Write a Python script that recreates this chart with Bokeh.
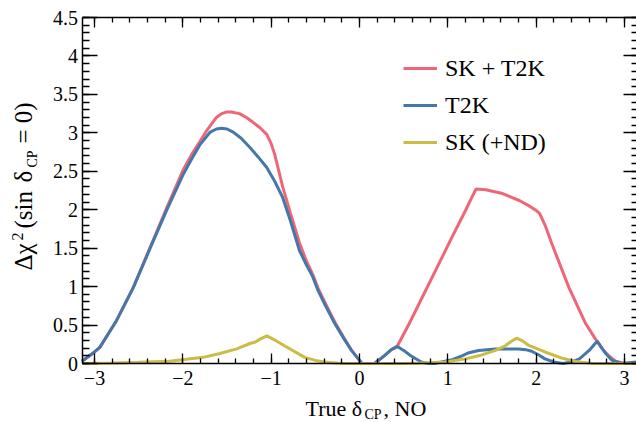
import math
from bokeh.plotting import figure
from bokeh.models import (Range1d, LinearAxis, SingleIntervalTicker, CustomJSTickFormatter,
                          Label, Legend, LegendItem)
from bokeh.embed import file_html
from bokeh.resources import INLINE

# ---- data ----
sk_t2k_x = [-3.1416, -3.0, -2.94, -2.75, -2.56, -2.37, -2.18, -2.0, -1.90, -1.81, -1.73, -1.62,
            -1.56, -1.51, -1.45, -1.36, -1.28, -1.21, -1.13, -1.05, -1.00, -0.96, -0.87, -0.78,
            -0.68, -0.60, -0.53, -0.47, -0.38, -0.28, -0.18, -0.09, 0.0, 0.03, 0.17, 0.28,
            0.36, 0.43, 0.55, 0.68, 0.87, 1.05, 1.20, 1.28, 1.32, 1.43, 1.62, 1.81, 1.92, 2.00,
            2.04, 2.10, 2.18, 2.37, 2.56, 2.67, 2.69, 2.75, 2.82, 2.90, 3.0, 3.1416]
sk_t2k_y = [0.03, 0.15, 0.21, 0.56, 0.99, 1.51, 2.03, 2.51, 2.72, 2.88, 3.03, 3.20,
            3.25, 3.27, 3.27, 3.25, 3.20, 3.14, 3.07, 2.98, 2.86, 2.72, 2.30, 1.95,
            1.57, 1.33, 1.16, 0.98, 0.77, 0.54, 0.34, 0.17, 0.04, 0.0, 0.0, 0.10,
            0.18, 0.23, 0.49, 0.79, 1.23, 1.65, 1.99, 2.18, 2.27, 2.26, 2.21, 2.12, 2.05, 1.99,
            1.95, 1.80, 1.55, 0.99, 0.52, 0.32, 0.29, 0.19, 0.10, 0.03, 0.0, 0.0]

t2k_x = [-3.1416, -3.0, -2.94, -2.75, -2.56, -2.37, -2.18, -2.0, -1.90, -1.81, -1.69, -1.62,
         -1.56, -1.50, -1.43, -1.34, -1.24, -1.15, -1.05, -0.96, -0.87, -0.78, -0.68, -0.60,
         -0.53, -0.47, -0.38, -0.28, -0.18, -0.09, 0.0, 0.03, 0.17, 0.28, 0.36, 0.43, 0.50,
         0.58, 0.70, 0.78, 0.85, 0.97, 1.05, 1.16, 1.24, 1.35, 1.54, 1.80, 1.88, 1.95, 2.03,
         2.10, 2.20, 2.30, 2.40, 2.49, 2.60, 2.69, 2.78, 2.86, 2.97, 3.1416]
t2k_y = [0.03, 0.15, 0.21, 0.56, 0.99, 1.50, 2.00, 2.45, 2.66, 2.84, 3.01, 3.05,
         3.06, 3.05, 3.01, 2.93, 2.81, 2.69, 2.55, 2.37, 2.16, 1.85, 1.47, 1.28,
         1.13, 0.95, 0.74, 0.52, 0.33, 0.17, 0.04, 0.0, 0.0, 0.10, 0.18, 0.22, 0.17,
         0.10, 0.02, 0.0, 0.0, 0.03, 0.05, 0.10, 0.14, 0.17, 0.19, 0.19, 0.18, 0.16, 0.11,
         0.06, 0.02, 0.0, 0.02, 0.06, 0.17, 0.29, 0.14, 0.04, 0.0, 0.02]

sk_x = [-3.1416, -2.8, -2.5, -2.15, -1.77, -1.58, -1.39, -1.24, -1.18, -1.12, -1.05, -0.95,
        -0.85, -0.62, -0.50, -0.40, -0.30, -0.20, 0.0, 0.5, 0.7, 0.97, 1.20, 1.35, 1.54,
        1.65, 1.72, 1.78, 1.85, 1.91, 2.10, 2.29, 2.48, 2.65, 3.1416]
sk_y = [0.0, 0.005, 0.015, 0.03, 0.08, 0.13, 0.19, 0.26, 0.28, 0.32, 0.36, 0.30,
        0.23, 0.08, 0.04, 0.02, 0.01, 0.0, 0.0, 0.0, 0.005, 0.02, 0.06, 0.10, 0.17,
        0.23, 0.29, 0.33, 0.29, 0.24, 0.15, 0.07, 0.02, 0.0, 0.0]

series_names = ["SK + T2K", "T2K", "SK (+ND)"]
series_colors = ["#EE6677", "#4477AA", "#CCBB44"]

X_MIN, X_MAX = -math.pi, math.pi
Y_MIN, Y_MAX = 0.0, 4.5

FONT = "Liberation Serif"

# The frame fills the whole canvas; the axes sit at fixed data positions.
p = figure(width=636, height=422, output_backend="svg", toolbar_location=None,
           x_range=Range1d(-4.0643, 3.136), y_range=Range1d(-0.7673, 4.7211),
           x_axis_location=None, y_axis_location=None,
           min_border_left=0, min_border_right=0, min_border_top=0, min_border_bottom=0)
p.xgrid.visible = False
p.ygrid.visible = False
p.outline_line_color = None
p.background_fill_color = "white"
p.border_fill_color = "white"

fmt = CustomJSTickFormatter(code="""
var v = Math.round(tick * 10) / 10;
return v < 0 ? "\\u2212" + (-v) : "" + v;
""")
empty = CustomJSTickFormatter(code="return '';")

def mk_axis(interval, major_in, minor_in, labels, loc, bounds):
    ax = LinearAxis(ticker=SingleIntervalTicker(interval=interval, num_minor_ticks=5),
                    formatter=fmt if labels else empty, fixed_location=loc, bounds=bounds)
    ax.major_tick_in = major_in
    ax.major_tick_out = 0
    ax.minor_tick_in = minor_in
    ax.minor_tick_out = 0
    ax.major_tick_line_color = "black"
    ax.minor_tick_line_color = "black"
    ax.major_tick_line_width = 1.3
    ax.minor_tick_line_width = 1.3
    ax.axis_line_color = "black"
    ax.axis_line_width = 1.5
    ax.major_label_text_font = FONT
    ax.major_label_text_color = "black"
    if labels:
        ax.major_label_text_font_size = "20px"
    else:
        ax.major_label_text_font_size = "0px"
        ax.major_label_standoff = 0
    return ax

bottom = mk_axis(1, 10, 5, True, Y_MIN, (X_MIN, 3.2))
bottom.major_label_standoff = 7
top = mk_axis(1, 10, 5, False, Y_MAX, (X_MIN, 3.2))
left = mk_axis(0.5, 15, 7, True, X_MIN, (Y_MIN, Y_MAX))
left.major_label_standoff = 4
right = mk_axis(0.5, 15, 7, False, 3.16, (Y_MIN, Y_MAX))
p.add_layout(bottom, "below")
p.add_layout(top, "above")
p.add_layout(left, "left")
p.add_layout(right, "right")

r1 = p.line(sk_t2k_x, sk_t2k_y, line_color=series_colors[0], line_width=3)
r2 = p.line(t2k_x, t2k_y, line_color=series_colors[1], line_width=3)
r3 = p.line(sk_x, sk_y, line_color=series_colors[2], line_width=3)

legend = Legend(items=[LegendItem(label=series_names[0], renderers=[r1]),
                       LegendItem(label=series_names[1], renderers=[r2]),
                       LegendItem(label=series_names[2], renderers=[r3])],
                location=(403, 265), orientation="vertical")
legend.label_text_font = FONT
legend.label_text_font_size = "24px"
legend.label_text_color = "black"
legend.glyph_width = 34
legend.glyph_height = 30
legend.label_height = 30
legend.label_standoff = 8
legend.spacing = 7
legend.padding = 0
legend.margin = 0
legend.border_line_color = None
legend.background_fill_alpha = 0
p.add_layout(legend, "center")

def lab(x, y, text, size, angle=0.0):
    l = Label(x=x, y=y, x_units="screen", y_units="screen", text=text, angle=angle,
              text_font=FONT, text_font_size=size, text_color="black",
              text_align="left", text_baseline="middle")
    p.add_layout(l)

# x axis title: True δ_CP, NO  (anchors are the vertical centres of the text)
lab(305, 14.5, "True \u03b4", "22px")
lab(364, 8, "CP", "14px")
lab(383, 14.5, ", NO", "22px")

# y axis title: Δχ²(sin δ_CP = 0)  (x anchors are the centres of the rotated text)
A = math.pi / 2
lab(23, 152, "\u0394", "25px", A)
lab(23, 168, "\u03c7", "25px", A)
lab(17, 182, "2", "16px", A)
lab(23, 194, "(sin", "25px", A)
lab(23, 240, "\u03b4", "25px", A)
lab(32, 255, "CP", "14px", A)
lab(23, 279, "= 0)", "25px", A)

open("out.html", "w").write(file_html(p, INLINE))
